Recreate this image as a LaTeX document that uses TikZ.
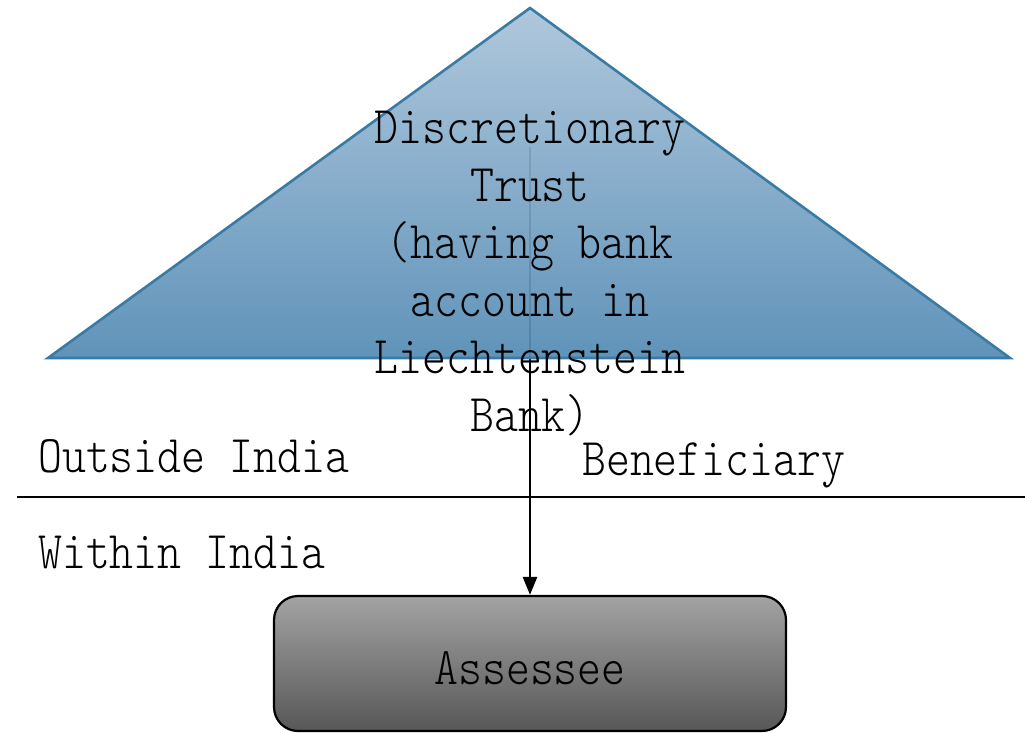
\documentclass[tikz,border=0pt]{standalone}
\usepackage{fontspec}
\newfontfamily\dfont[FakeStretch=0.86]{Latin Modern Mono Light}
\usetikzlibrary{arrows.meta}
\definecolor{triTop}{HTML}{A9C3D9}
\definecolor{triBot}{HTML}{548BB4}
\definecolor{triEdge}{HTML}{3A7BA5}
\definecolor{boxTop}{HTML}{A3A3A3}
\definecolor{boxBot}{HTML}{575757}
\tikzset{
  txt/.style={inner sep=0pt, font=\dfont\fontsize{53}{57.5}\selectfont},
  conn/.style={line width=2.4pt, -{Triangle[length=18pt,width=14pt]}},
  boxstyle/.style={draw=black, line width=2.2pt, rounded corners=24pt,
    top color=boxTop, bottom color=boxBot, minimum width=512pt, minimum height=135pt,
    txt, text height=41pt, text depth=0pt},
}
\begin{document}
\begin{tikzpicture}[x=1pt,y=1pt]
\useasboundingbox (0,0) rectangle (1025,732);
% Assessee box
\node[boxstyle] (assessee) at (530,68.5) {Assessee};
% connector start
\coordinate (trust) at (530,585);
\draw[conn] (trust) -- (assessee.north);
% triangle
\shade[top color=triTop, bottom color=triBot, fill opacity=0.93]
  (530,724) -- (1010,374) -- (48,374) -- cycle;
\draw[triEdge, line width=2.6pt, line join=miter]
  (530,724) -- (1010,374) -- (48,374) -- cycle;
\node[txt, align=center, anchor=north] (trusttxt) at (530,621)
  {Discretionary\\Trust\\(having bank\\account in\\Liechtenstein\\Bank)};
% boundary line
\coordinate (bl) at (17,235);
\coordinate (br) at (1025,235);
\draw[line width=2.4pt] (bl) -- (br);
\node[txt, anchor=base west] (outside) at (38,260) {Outside India};
\node[txt, anchor=base west] (within) at (38,164) {Within India};
\node[txt, anchor=base west] (benef) at (582,257) {Beneficiary};
\end{tikzpicture}
\end{document}
